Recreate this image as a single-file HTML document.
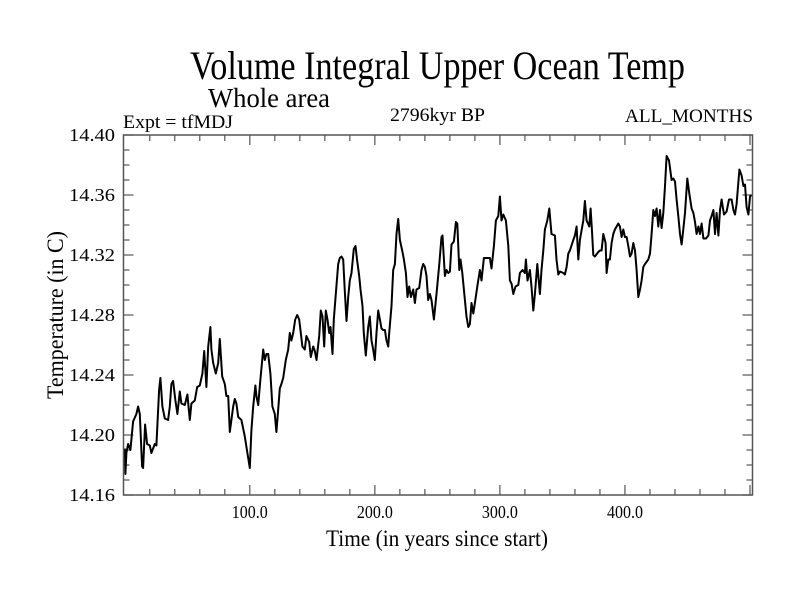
<!DOCTYPE html>
<html><head><meta charset="utf-8"><style>
body{margin:0;background:#fff}
svg{display:block;font-family:"Liberation Serif",serif}
</style></head><body>
<svg id="chart" width="800" height="600" viewBox="0 0 800 600">
<text x="190" y="79" font-size="40" textLength="495" lengthAdjust="spacingAndGlyphs">Volume Integral Upper Ocean Temp</text>
<text x="208" y="107" font-size="27" textLength="122" lengthAdjust="spacingAndGlyphs">Whole area</text>
<text x="123" y="128" font-size="19" textLength="110" lengthAdjust="spacingAndGlyphs">Expt = tfMDJ</text>
<text x="390" y="121" font-size="19" textLength="95" lengthAdjust="spacingAndGlyphs">2796kyr BP</text>
<text x="625" y="122" font-size="19" textLength="128" lengthAdjust="spacingAndGlyphs">ALL_MONTHS</text>
<text x="326" y="546" font-size="23" textLength="222" lengthAdjust="spacingAndGlyphs">Time (in years since start)</text>
<text transform="translate(63,315) rotate(-90)" font-size="23" text-anchor="middle" textLength="168" lengthAdjust="spacingAndGlyphs">Temperature (in C)</text>
<g id="axes"></g>
<path id="series" fill="none" stroke="#000" stroke-width="2" stroke-linejoin="round"/>
<rect x="123.5" y="135" width="629" height="360" fill="none" stroke="#555" stroke-width="1.5"/>
</svg>
<script>
const years=[0,0.5,1.3,2.7,4.5,6.7,9.3,10.7,12,13.9,14.7,16.3,17.9,20,21.3,24,25.3,27.5,28.5,30.1,32,34.7,36,37.3,38.7,40.5,42.1,44,45.3,48,50.1,52,53.3,56,57.9,60,62.1,63.5,65.3,66.7,68.5,69.3,70.7,72.8,74.7,76,77.9,80,81.3,82.7,84,85.3,86.7,88,89.3,90.7,93.3,96,98.1,100,101.3,102.7,104.5,105.3,106.7,108.5,110.7,112,113.3,114.7,116.5,118.1,120,121.3,122.7,124,125.3,126.7,128.8,130.7,132,133.3,134.7,136.3,137.9,139.5,140.8,142.1,144,145.3,147.5,148.8,150.7,152,153.3,155.5,156.8,158.1,159.5,160.8,162.1,163.5,164.5,166.1,167.2,168.8,170.7,172,173.3,174.7,176,177.3,178.7,180,181.3,183.2,184.5,185.9,187.5,188.5,190.1,191.2,192.8,194.7,196,197.3,198.7,200,201.3,202.7,204,205.3,206.7,208,209.3,210.7,211.5,213.3,214.7,216,217.3,218.7,220,221.9,223.2,224.8,226.1,227.5,228.8,230.7,232,233.3,235.5,237.3,238.7,240,241.3,242.7,
244,245.3,247.2,249.3,251.5,253.3,254.1,256,257.3,258.7,260,261.3,263.2,264.8,265.9,267.5,268.5,269.9,272,273.3,274.7,276,277.3,278.7,280,281.9,284,285.3,287.2,289.3,292,293.3,295.2,296.8,298.7,300,301.3,302.7,304.8,306.7,308,309.3,310.7,312.5,314.7,316,318.1,320,320.8,322.1,324,325.3,326.7,328,329.9,332,333.3,334.7,336,337.9,339.5,341.3,344,345.3,346.7,348,350.7,352,353.3,354.7,356,358.7,360,361.3,362.7,364,366.7,368,369.3,371.5,372.5,373.6,374.7,376,378.7,380,381.3,382.7,384.5,385.3,386.7,388,389.3,390.7,392,393.3,394.7,396,397.3,398.7,400,401.3,402.7,404,405.3,406.7,408,409.3,410.7,412,413.3,414.7,416,418.7,420,421.3,422.7,424,425.3,426.7,428,429.3,430.7,432,433.3,435.2,437.3,438.7,440,441.3,442.7,444,445.3,446.7,448,449.9,451.5,453.3,454.7,456,457.3,458.7,460,461.3,462.7,464.8,466.7,468,469.3,470.7,472,473.3,474.7,476,477.3,479.2,481.3,483.2,485.3,486.7,488,489.3,491.5,493.3,494.7,496,497.3,498.7,500,501.3];
const temps=[14.191,14.174,14.188,14.194,14.190,14.209,14.214,14.219,14.214,14.179,14.178,14.207,14.194,14.193,14.188,14.194,14.193,14.230,14.238,14.219,14.211,14.210,14.219,14.234,14.236,14.223,14.214,14.229,14.221,14.220,14.227,14.210,14.221,14.223,14.232,14.233,14.241,14.256,14.232,14.259,14.272,14.257,14.248,14.241,14.248,14.264,14.239,14.234,14.226,14.226,14.202,14.210,14.219,14.224,14.221,14.212,14.210,14.199,14.188,14.178,14.203,14.219,14.233,14.226,14.220,14.237,14.257,14.250,14.254,14.254,14.241,14.219,14.214,14.202,14.217,14.231,14.234,14.238,14.250,14.257,14.268,14.263,14.268,14.277,14.280,14.277,14.268,14.259,14.257,14.266,14.262,14.252,14.259,14.256,14.250,14.266,14.283,14.279,14.259,14.283,14.277,14.268,14.272,14.254,14.277,14.294,14.314,14.318,14.319,14.317,14.296,14.276,14.292,14.303,14.308,14.324,14.326,14.316,14.306,14.297,14.286,14.268,14.253,14.272,14.279,14.263,14.257,14.250,14.268,14.283,14.277,14.271,14.270,14.270,14.263,14.259,14.268,14.286,14.310,14.314,14.334,14.344,14.330,14.323,14.317,14.308,14.292,14.299,14.292,14.297,14.288,14.297,14.298,14.310,14.314,14.312,14.306,14.290,
14.294,14.290,14.277,14.294,14.314,14.332,14.333,14.306,14.310,14.308,14.309,14.327,14.329,14.342,14.341,14.310,14.317,14.308,14.290,14.279,14.272,14.274,14.288,14.281,14.288,14.299,14.310,14.303,14.318,14.318,14.318,14.311,14.326,14.343,14.346,14.359,14.343,14.347,14.343,14.326,14.303,14.301,14.294,14.299,14.300,14.308,14.310,14.308,14.317,14.303,14.310,14.299,14.283,14.294,14.314,14.294,14.310,14.323,14.337,14.343,14.351,14.334,14.333,14.317,14.307,14.309,14.308,14.307,14.312,14.321,14.323,14.330,14.333,14.339,14.317,14.330,14.343,14.356,14.343,14.339,14.351,14.337,14.320,14.319,14.322,14.323,14.323,14.334,14.328,14.308,14.317,14.317,14.328,14.334,14.337,14.339,14.341,14.339,14.332,14.337,14.332,14.332,14.326,14.319,14.321,14.328,14.323,14.310,14.292,14.297,14.303,14.312,14.314,14.317,14.321,14.334,14.350,14.346,14.351,14.339,14.350,14.338,14.348,14.366,14.386,14.383,14.370,14.371,14.369,14.357,14.346,14.334,14.327,14.337,14.348,14.371,14.361,14.351,14.348,14.342,14.334,14.339,14.334,14.341,14.331,14.331,14.333,14.343,14.346,14.350,14.334,14.348,14.333,14.350,14.357,14.347,14.349,14.357,14.357,14.350,14.347,14.354,14.377,14.373,14.366,14.367,14.352,14.347,14.359,14.360];
const xTickLabels=["100.0","200.0","300.0","400.0"];
const xTickValues=[100,200,300,400];
const yTickLabels=["14.16","14.20","14.24","14.28","14.32","14.36","14.40"];
const yTickValues=[14.16,14.20,14.24,14.28,14.32,14.36,14.40];

const X0=123.5,X1=752.5,Y0=495,Y1=135,XMIN=-1,XMAX=502,YMIN=14.16,YMAX=14.40;
const sx=v=>X0+(v-XMIN)/(XMAX-XMIN)*(X1-X0);
const sy=v=>Y0-(v-YMIN)/(YMAX-YMIN)*(Y0-Y1);
const NS="http://www.w3.org/2000/svg";
const axes=document.getElementById('axes');
function line(x1,y1,x2,y2){const l=document.createElementNS(NS,'line');l.setAttribute('x1',x1);l.setAttribute('y1',y1);l.setAttribute('x2',x2);l.setAttribute('y2',y2);l.setAttribute('stroke','#555');l.setAttribute('stroke-width','1.2');axes.appendChild(l);return l;}
for(let v=20;v<XMAX;v+=20){const x=sx(v);const major=v%100===0;const L=major?10:6;
 const t1=line(x,Y0,x,Y0-L);
 
 
 const t2=line(x,Y1,x,Y1+L);
 
 }
for(let i=0;i<=24;i++){const v=YMIN+i*0.01;const y=sy(v);const major=i%4===0;const L=major?10:6;
 const t1=line(X0,y,X0+L,y);
 
 
 const t2=line(X1,y,X1-L,y);
 
 }
xTickLabels.forEach((s,i)=>{const t=document.createElementNS(NS,'text');t.setAttribute('x',sx(xTickValues[i])-18);t.setAttribute('y',518);t.setAttribute('font-size','18');t.setAttribute('textLength','36');t.setAttribute('lengthAdjust','spacingAndGlyphs');t.textContent=s;
 
 
 axes.appendChild(t);});
yTickLabels.forEach((s,i)=>{const t=document.createElementNS(NS,'text');t.setAttribute('x',69);t.setAttribute('y',sy(yTickValues[i])+6);t.setAttribute('font-size','18');t.setAttribute('textLength','46');t.setAttribute('lengthAdjust','spacingAndGlyphs');t.textContent=s;
 
 
 axes.appendChild(t);});
let d='';years.forEach((y,i)=>{d+=(i?'L':'M')+sx(y).toFixed(1)+','+sy(temps[i]).toFixed(1);});
document.getElementById('series').setAttribute('d',d);
</script>
</body></html>
